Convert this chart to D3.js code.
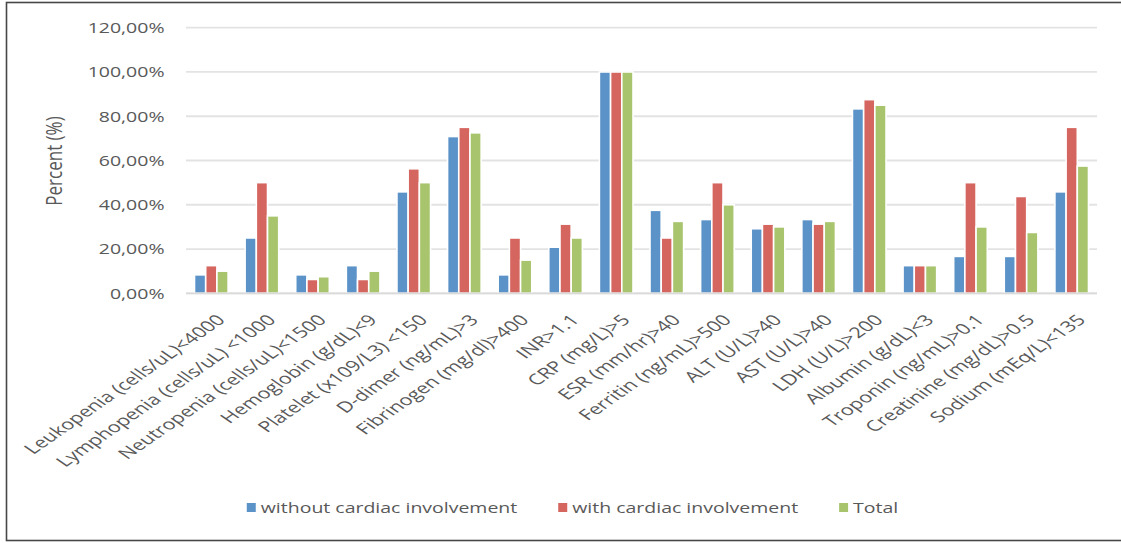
<!DOCTYPE html>
<html>
<head>
<meta charset="utf-8">
<script src="https://cdn.jsdelivr.net/npm/d3@7/dist/d3.min.js"></script>
<style>
  html, body { margin: 0; padding: 0; background: #fff; }
  svg { display: block; }
  text { font-family: "Open Sans", "Liberation Sans", sans-serif; fill: #595959; }
</style>
</head>
<body>
<svg id="chart" width="1121" height="543"></svg>
<script>
const categories = [
  "Leukopenia (cells/uL)<4000",
  "Lymphopenia (cells/uL) <1000",
  "Neutropenia (cells/uL)<1500",
  "Hemoglobin (g/dL)<9",
  "Platelet (x109/L3) <150",
  "D-dimer (ng/mL)>3",
  "Fibrinogen (mg/dl)>400",
  "INR>1.1",
  "CRP (mg/L)>5",
  "ESR (mm/hr)>40",
  "Ferritin (ng/mL)>500",
  "ALT (U/L)>40",
  "AST (U/L)>40",
  "LDH (U/L)>200",
  "Albumin (g/dL)<3",
  "Troponin (ng/mL)>0.1",
  "Creatinine (mg/dL)>0.5",
  "Sodium (mEq/L)<135"
];
const seriesNames = ["without cardiac involvement", "with cardiac involvement", "Total"];
const withoutCardiac = [8.33, 25, 8.33, 12.5, 45.83, 70.83, 8.33, 20.83, 100, 37.5, 33.33, 29.17, 33.33, 83.33, 12.5, 16.67, 16.67, 45.83];
const withCardiac    = [12.5, 50, 6.25, 6.25, 56.25, 75, 25, 31.25, 100, 25, 50, 31.25, 31.25, 87.5, 12.5, 50, 43.75, 75];
const totalValues    = [10, 35, 7.5, 10, 50, 72.5, 15, 25, 100, 32.5, 40, 30, 32.5, 85, 12.5, 30, 27.5, 57.5];
const yTicks = [0, 20, 40, 60, 80, 100, 120];
const yTitle = "Percent (%)";
const colors = ["#5b93c9", "#d5655f", "#a8c56e"];

const series = [withoutCardiac, withCardiac, totalValues];
const SX = 1.3;   // horizontal stretch of the reference picture (ticks, legend, title)
const SXL = 1.44; // stretch for the slanted category labels

const svg = d3.select("#chart");

// frame
svg.append("rect")
  .attr("x", 6.5).attr("y", 2.5).attr("width", 1125).attr("height", 538)
  .attr("fill", "none").attr("stroke", "#474747").attr("stroke-width", 1.6);

const plot = { left: 186, right: 1097, top: 27.7, bottom: 293.3 };

const x0 = d3.scaleBand()
  .domain(categories)
  .range([plot.left, plot.right])
  .paddingInner(0.336)
  .paddingOuter(0.168);

const x1 = d3.scaleBand()
  .domain(d3.range(series.length))
  .range([0, x0.bandwidth()]);

const y = d3.scaleLinear().domain([0, 120]).range([plot.bottom, plot.top]);

// gridlines
svg.append("g").selectAll("line")
  .data(yTicks)
  .join("line")
  .attr("x1", plot.left).attr("x2", plot.right)
  .attr("y1", d => y(d)).attr("y2", d => y(d))
  .attr("stroke", "#e3e3e3").attr("stroke-width", 1.8);

// y tick labels
const fmt = v => d3.format(".2f")(v).replace(".", ",") + "%";
svg.append("g").selectAll("text")
  .data(yTicks)
  .join("text")
  .attr("transform", d => `translate(164.5,${y(d)}) scale(${SX},1)`)
  .attr("dy", "0.36em")
  .attr("text-anchor", "end")
  .style("font-size", "15px")
  .text(fmt);

// y title
svg.append("text")
  .attr("transform", `translate(62,161) scale(${SX},1) rotate(-90)`)
  .attr("text-anchor", "middle")
  .style("font-size", "17px")
  .text(yTitle);

// bars
const groups = svg.append("g").selectAll("g")
  .data(categories)
  .join("g")
  .attr("transform", d => `translate(${x0(d)},0)`);

groups.selectAll("rect")
  .data((d, i) => series.map((s, k) => ({ k, v: s[i] })))
  .join("rect")
  .attr("x", d => x1(d.k))
  .attr("y", d => y(d.v))
  .attr("width", x1.bandwidth())
  .attr("height", d => y(0) - y(d.v))
  .attr("fill", d => colors[d.k])
  .attr("stroke", "#fff")
  .attr("stroke-width", 1.6);

// x axis baseline
svg.append("line")
  .attr("x1", plot.left).attr("x2", plot.right)
  .attr("y1", y(0)).attr("y2", y(0))
  .attr("stroke", "#dadada").attr("stroke-width", 1.8);

// category labels
svg.append("g").selectAll("text")
  .data(categories)
  .join("text")
  .attr("transform", d => `translate(${x0(d) + x0.bandwidth() / 2 + 4},${plot.bottom + 20}) scale(${SXL},1) rotate(-45)`)
  .attr("text-anchor", "end")
  .attr("dy", "0.72em")
  .style("font-size", "15px")
  .text(d => d);

// legend
const legend = svg.append("g");
const items = legend.selectAll("g")
  .data(seriesNames)
  .join("g");
items.append("rect")
  .attr("width", 9).attr("height", 9)
  .attr("y", -5)
  .attr("fill", (d, i) => colors[i]);
items.append("text")
  .attr("transform", `translate(14,0) scale(${SX},1)`)
  .attr("dy", "0.36em")
  .style("font-size", "15px")
  .text(d => d);

let pos = 0;
const xs = [];
items.each(function (d) {
  const w = this.querySelector("text").getComputedTextLength() * SX;
  xs.push(pos);
  pos += 14 + w + 41;
});
const totalW = pos - 41;
const startX = 572.5 - totalW / 2;
items.attr("transform", (d, i) => `translate(${startX + xs[i]},508)`);
</script>
</body>
</html>
